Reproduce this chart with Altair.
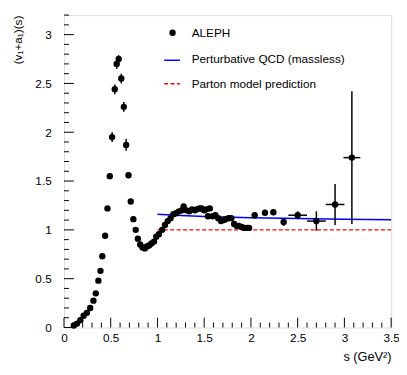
import altair as alt
import pandas as pd

# ALEPH data points: s (GeV^2), value, half x-error, half y-error
s_vals = [0.105, 0.14, 0.175, 0.21, 0.245, 0.28, 0.315, 0.34, 0.368, 0.39,
          0.41, 0.44, 0.465, 0.49, 0.515, 0.543, 0.564, 0.585, 0.613, 0.64,
          0.665, 0.69, 0.714, 0.742, 0.767, 0.79, 0.815, 0.84, 0.865, 0.886,
          0.91, 0.935, 0.963, 0.987, 1.015, 1.05, 1.08, 1.11, 1.14, 1.17,
          1.20, 1.23, 1.26, 1.28, 1.31, 1.34, 1.37, 1.40, 1.42, 1.45,
          1.47, 1.50, 1.52, 1.54, 1.56, 1.59, 1.62, 1.65, 1.68, 1.71,
          1.73, 1.76, 1.79, 1.82, 1.85, 1.87, 1.90, 1.93, 1.96, 1.98,
          2.04, 2.15, 2.24, 2.35, 2.50, 2.70, 2.90, 3.08]
v_vals = [0.02, 0.04, 0.075, 0.12, 0.15, 0.20, 0.275, 0.35, 0.48, 0.58,
          0.73, 0.94, 1.22, 1.55, 1.95, 2.44, 2.70, 2.75, 2.55, 2.26,
          1.87, 1.56, 1.29, 1.11, 1.00, 0.91, 0.85, 0.82, 0.81, 0.83,
          0.84, 0.86, 0.88, 0.93, 0.955, 1.00, 1.05, 1.09, 1.12, 1.16,
          1.17, 1.19, 1.20, 1.24, 1.20, 1.19, 1.21, 1.20, 1.21, 1.22,
          1.22, 1.20, 1.21, 1.14, 1.22, 1.14, 1.15, 1.12, 1.09, 1.10,
          1.11, 1.12, 1.12, 1.06, 1.04, 1.04, 1.03, 1.02, 1.02, 1.02,
          1.15, 1.175, 1.18, 1.08, 1.15, 1.09, 1.26, 1.74]
s_err = [0.0] * 70 + [0.03, 0.03, 0.03, 0.03, 0.10, 0.10, 0.10, 0.09]
v_err = ([0.01] * 13 + [0.03, 0.05, 0.05, 0.05, 0.04, 0.05, 0.05,
                        0.06, 0.03] + [0.02] * 48
         + [0.03, 0.03, 0.03, 0.04, 0.04, 0.10, 0.21, 0.68])

# Perturbative QCD (massless)
qcd_s = [1.0, 1.25, 1.5, 2.0, 2.5, 3.0, 3.5]
qcd_v = [1.16, 1.147, 1.138, 1.125, 1.116, 1.109, 1.103]
# Parton model prediction
parton_s = [1.0, 3.5]
parton_v = [1.0, 1.0]

x_major = [0, 0.5, 1, 1.5, 2, 2.5, 3, 3.5]
y_major = [0, 0.5, 1, 1.5, 2, 2.5, 3]
x_minor = [round(i * 0.1, 1) for i in range(36) if i % 5 != 0]
y_minor = [round(i * 0.1, 1) for i in range(33) if i % 5 != 0]

W, H = 333, 318
FONT = "Liberation Sans"

df = pd.DataFrame({"s": s_vals, "v": v_vals, "se": s_err, "ve": v_err})
df["s_lo"] = df["s"] - df["se"]
df["s_hi"] = df["s"] + df["se"]
df["v_lo"] = df["v"] - df["ve"]
df["v_hi"] = df["v"] + df["ve"]
df_x = df[df["se"] > 0]

xs = alt.Scale(domain=[0, 3.5], nice=False, zero=False)
ys = alt.Scale(domain=[0, 3.2], nice=False, zero=False)
xaxis = alt.Axis(values=x_major, format="~g", ticks=False, domain=False, grid=False,
                 labelFlush=False, labelPadding=5, labelFontSize=12, labelColor="black",
                 labelFont=FONT, title="s (GeV²)", titleAnchor="end", titleFontSize=13,
                 titleFont=FONT, titleFontWeight="normal", titleColor="black",
                 titlePadding=8)
yaxis = alt.Axis(values=y_major, format="~g", ticks=False, domain=False, grid=False,
                 labelFlush=False, labelPadding=13, labelFontSize=12, labelColor="black",
                 labelFont=FONT, title="(v₁+a₁)(s)", titleAnchor="end", titleFontSize=12,
                 titleFont=FONT, titleFontWeight="normal", titleColor="black",
                 titlePadding=11)


def X(f):
    return alt.X(f, type="quantitative", scale=xs, axis=xaxis)


def Y(f):
    return alt.Y(f, type="quantitative", scale=ys, axis=yaxis)


xmin_df = pd.DataFrame({"t": x_minor})
xmaj_df = pd.DataFrame({"t": x_major})
ymin_df = pd.DataFrame({"t": y_minor})
ymaj_df = pd.DataFrame({"t": y_major})

tick_xmin = alt.Chart(xmin_df).mark_rule(color="black", strokeWidth=1).encode(
    x=X("t"), y=alt.value(H), y2=alt.value(H - 5))
tick_xmaj = alt.Chart(xmaj_df).mark_rule(color="black", strokeWidth=1).encode(
    x=X("t"), y=alt.value(H), y2=alt.value(H - 10))
tick_ymin = alt.Chart(ymin_df).mark_rule(color="black", strokeWidth=1).encode(
    y=Y("t"), x=alt.value(0), x2=alt.value(5))
tick_ymaj = alt.Chart(ymaj_df).mark_rule(color="black", strokeWidth=1).encode(
    y=Y("t"), x=alt.value(0), x2=alt.value(10))

parton = alt.Chart(pd.DataFrame({"s": parton_s, "v": parton_v})).mark_line(
    color="red", strokeWidth=1.5, strokeDash=[4, 2.5]).encode(x=X("s"), y=Y("v"))
qcd = alt.Chart(pd.DataFrame({"s": qcd_s, "v": qcd_v})).mark_line(
    color="blue", strokeWidth=1.5).encode(x=X("s"), y=Y("v"))

verr = alt.Chart(df).mark_rule(color="black", strokeWidth=1.5).encode(
    x=X("s"), y=Y("v_lo"), y2="v_hi")
herr = alt.Chart(df_x).mark_rule(color="black", strokeWidth=1.5).encode(
    y=Y("v"), x=X("s_lo"), x2="s_hi")
pts = alt.Chart(df).mark_circle(color="black", opacity=1, size=42).encode(
    x=X("s"), y=Y("v"))

one = pd.DataFrame({"k": [0]})
leg_pt = alt.Chart(one).mark_circle(color="black", opacity=1, size=42).encode(
    x=alt.value(110.5), y=alt.value(18))
leg_blue = alt.Chart(one).mark_rule(color="blue", strokeWidth=1.5).encode(
    x=alt.value(102), x2=alt.value(118), y=alt.value(46))
leg_red = alt.Chart(one).mark_rule(color="red", strokeWidth=1.5, strokeDash=[4, 2.5]).encode(
    x=alt.value(102), x2=alt.value(118), y=alt.value(70))
leg_text = alt.Chart(pd.DataFrame({
    "label": ["ALEPH", "Perturbative QCD (massless)", "Parton model prediction"],
    "ypix": [18, 45, 70]})).mark_text(
    align="left", baseline="middle", font=FONT, fontSize=12, color="black").encode(
    x=alt.value(130), y=alt.Y("ypix:Q", scale=None), text="label:N")

chart = alt.layer(
    tick_xmin, tick_xmaj, tick_ymin, tick_ymaj, parton, qcd, verr, herr, pts,
    leg_pt, leg_blue, leg_red, leg_text
).properties(
    width=W, height=H,
    autosize=alt.AutoSizeParams(type="none"),
    padding={"left": 57, "top": 4, "right": 8, "bottom": 37},
).configure_view(
    stroke="black", strokeWidth=1
).configure(background="white")

chart.save("out.html", embed_options={"renderer": "svg", "actions": False})
